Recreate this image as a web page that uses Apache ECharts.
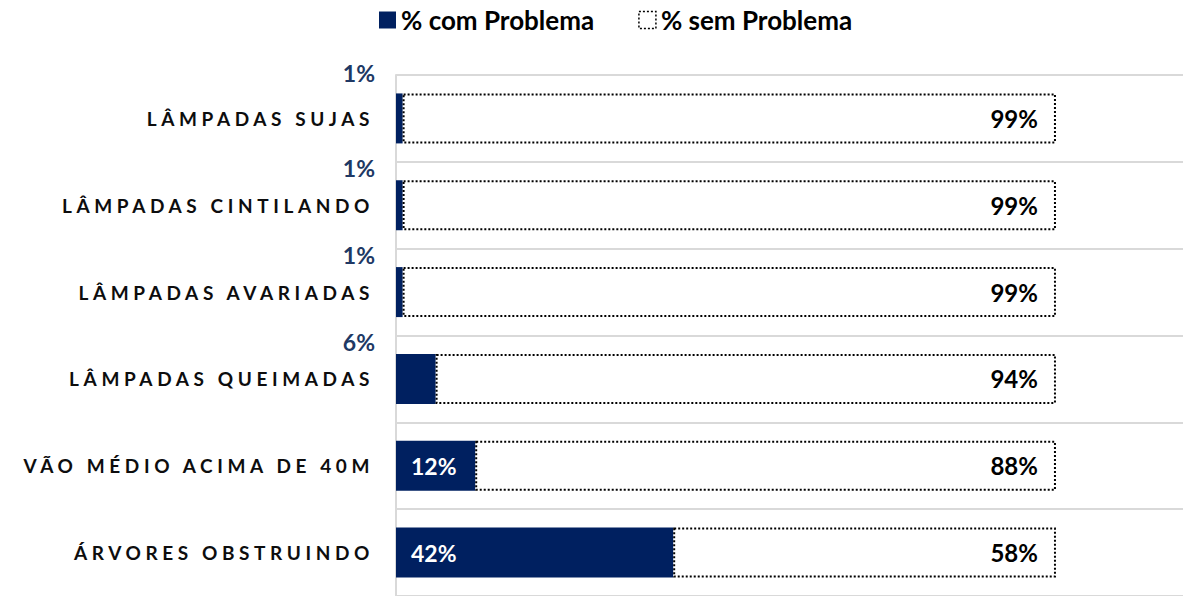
<!DOCTYPE html>
<html><head><meta charset="utf-8">
<script src="https://cdn.jsdelivr.net/npm/echarts@6/dist/echarts.min.js"></script>
<style>
html,body{margin:0;padding:0;background:#fff;overflow:hidden;}
#c{width:1183px;height:596px;}
#c text[fill="#0d0d0e"], #c text[style*="#0d0d0e"], #c text[style*="rgb(13, 13, 14)"]{letter-spacing:4.6px;}
</style></head><body><div id="c"></div>
<script>
const categories = ['LÂMPADAS SUJAS','LÂMPADAS CINTILANDO','LÂMPADAS AVARIADAS','LÂMPADAS QUEIMADAS','VÃO MÉDIO ACIMA DE 40M','ÁRVORES OBSTRUINDO'];
const comProblema = [1, 1, 1, 6, 12, 42];
const semProblema = [99, 99, 99, 94, 88, 58];
const seriesNames = ['% com Problema', '% sem Problema'];

const FONT = 'Lato, "Open Sans", sans-serif';
const NAVY = '#002060';

const comData = comProblema.map((v, i) => v < 10 ? {
  value: v,
  label: { show: true, position: [-21, i === 0 ? -20 : -12], align: 'right', verticalAlign: 'middle', color: '#203864' }
} : {
  value: v,
  label: { show: true, position: 'insideLeft', distance: 15, color: '#ffffff' }
});

const chart = echarts.init(document.getElementById('c'), null, { renderer: 'svg' });
chart.setOption({
  animation: false,
  textStyle: { fontFamily: FONT },
  legend: {
    top: 2,
    left: 374,
    itemWidth: 17,
    itemHeight: 17,
    itemGap: 44,
    textStyle: { fontFamily: FONT, fontWeight: 'bold', fontSize: 26, color: '#000' },
    data: [
      { name: seriesNames[0], icon: 'rect', itemStyle: { color: NAVY } },
      { name: seriesNames[1], icon: 'rect', itemStyle: { color: '#fff', borderColor: '#000', borderWidth: 1.5, borderType: [2, 2] } }
    ]
  },
  grid: { left: 396, top: 75, width: 787, height: 528, containLabel: false },
  xAxis: {
    type: 'value', min: 0, max: 119.25, show: false,
    splitLine: { show: false }
  },
  yAxis: {
    type: 'category',
    data: categories,
    inverse: true,
    axisLine: { show: true, lineStyle: { color: '#D9D9D9', width: 2 } },
    axisTick: { show: false },
    splitLine: { show: true, lineStyle: { color: '#D9D9D9', width: 2 } },
    axisLabel: {
      interval: 0, margin: 22,
      fontFamily: FONT, fontWeight: 'bold', fontSize: 19, color: '#0d0d0e'
    }
  },
  series: [
    {
      name: seriesNames[0], type: 'bar', stack: 'total', barWidth: 50,
      itemStyle: { color: NAVY },
      label: { show: true, formatter: '{c}%', fontFamily: FONT, fontWeight: 'bold', fontSize: 23 },
      data: comData
    },
    {
      name: seriesNames[1], type: 'bar', stack: 'total', barWidth: 50,
      itemStyle: { color: '#ffffff', borderColor: '#000', borderWidth: 2, borderType: [2, 2] },
      label: { show: true, position: 'insideRight', distance: 18, formatter: '{c}%', color: '#000', fontFamily: FONT, fontWeight: 'bold', fontSize: 24 },
      data: semProblema
    }
  ]
});
</script></body></html>
